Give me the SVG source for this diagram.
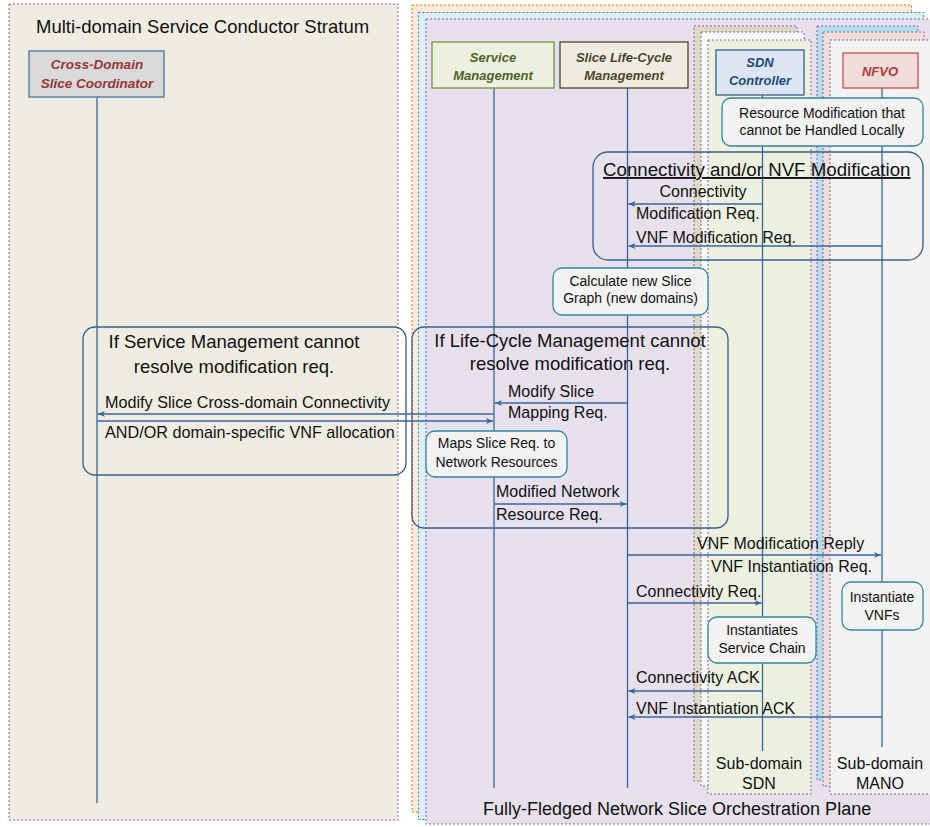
<svg xmlns="http://www.w3.org/2000/svg" width="930" height="827" viewBox="0 0 930 827">
<defs>
<marker id="ah" markerWidth="9" markerHeight="8" refX="7" refY="4" orient="auto" markerUnits="userSpaceOnUse">
<path d="M0,1 L7,4 L0,7 L2,4 z" fill="#3A659B"/>
</marker>
<style>
text{font-family:"Liberation Sans",Arial,sans-serif;fill:#111}
.pane{stroke-width:1;stroke-dasharray:2 2}
.hdbox{stroke-width:1.3}
.hd{font-weight:bold;font-style:italic;font-size:13px;text-anchor:middle}
.life{stroke:#3A659B;stroke-width:1.3;fill:none}
.msg{stroke:#3A659B;stroke-width:1.3;fill:none;marker-end:url(#ah)}
.note{fill:#F2F2F2;stroke:#31859C;stroke-width:1.3}
.nt{font-size:14px;text-anchor:middle}
.grp{fill:none;stroke:#385D8A;stroke-width:1.3}
.gt{font-size:18.5px}
.gtc{font-size:18.5px;text-anchor:middle}
.ml{font-size:16px}
.sub{font-size:16px;text-anchor:middle}
</style>
</defs>

<g id="backgrounds">
<rect class="pane" x="9" y="4" width="389" height="816" fill="#EEECE1" stroke="#8064A2"/>
<rect class="pane" x="412" y="5" width="499.5" height="807" fill="#FDE9D9" stroke="#E46C0A"/>
<rect class="pane" x="418.5" y="12.5" width="505.5" height="807" fill="#DBEEF4" stroke="#31859C"/>
<rect class="pane" x="426" y="19" width="510" height="805" fill="#E5E0EC" stroke="#8064A2"/>
<rect class="pane" x="694" y="26" width="103" height="755" fill="#DDD9C3" stroke="#8064A2"/>
<rect class="pane" x="701" y="32" width="103" height="754" fill="#F8F8F8" stroke="#8064A2"/>
<rect class="pane" x="708" y="40" width="103" height="754" fill="#EBF1DE" stroke="#8064A2"/>
<rect class="pane" x="817" y="26" width="101" height="754" fill="#B7DEE8" stroke="#8064A2"/>
<rect class="pane" x="823" y="32" width="101" height="754" fill="#F2DCDB" stroke="#8064A2"/>
<rect class="pane" x="830" y="40" width="110" height="754" fill="#F2F2F2" stroke="#8064A2"/>
<text x="36" y="33" style="font-size:18.5px">Multi-domain Service Conductor Stratum</text>
<text x="483" y="815" style="font-size:18px">Fully-Fledged Network Slice Orchestration Plane</text>
<text class="sub" x="759" y="769">Sub-domain</text>
<text class="sub" x="759" y="789">SDN</text>
<text class="sub" x="880" y="769">Sub-domain</text>
<text class="sub" x="880" y="789">MANO</text>
</g>

<g id="lifelines">
<line class="life" x1="97" y1="97" x2="97" y2="803"/>
<line class="life" x1="494" y1="88" x2="494" y2="788"/>
<line class="life" x1="627.5" y1="88" x2="627.5" y2="788"/>
<line class="life" x1="762.5" y1="95" x2="762.5" y2="751"/>
<line class="life" x1="882" y1="88" x2="882" y2="747"/>
</g>

<g id="groups">
<rect class="grp" x="593" y="152" width="330" height="108" rx="15"/>
<text x="603" y="176" style="font-size:18.7px" text-decoration="underline">Connectivity and/or NVF Modification</text>
<rect class="grp" x="412" y="327" width="316" height="201" rx="12"/>
<text class="gtc" x="570" y="347">If Life-Cycle Management cannot</text>
<text class="gtc" x="570" y="370">resolve modification req.</text>
<rect class="grp" x="83" y="327" width="323" height="148" rx="12"/>
<text class="gtc" x="234" y="348">If Service Management cannot</text>
<text class="gtc" x="234" y="373">resolve modification req.</text>
</g>

<g id="connectors">
<line class="msg" x1="762.5" y1="204" x2="628.5" y2="204"/>
<line class="msg" x1="882" y1="246" x2="628.5" y2="246"/>
<line class="msg" x1="627.5" y1="403" x2="495" y2="403"/>
<line class="msg" x1="494" y1="414" x2="98" y2="414"/>
<line class="msg" x1="97" y1="421" x2="493" y2="421"/>
<line class="msg" x1="494" y1="504" x2="626.5" y2="504"/>
<line class="msg" x1="627.5" y1="555" x2="881" y2="555"/>
<line class="msg" x1="627.5" y1="603" x2="761.5" y2="603"/>
<line class="msg" x1="762.5" y1="691" x2="628.5" y2="691"/>
<line class="msg" x1="882" y1="717" x2="628.5" y2="717"/>
<text class="ml" x="703" y="197" text-anchor="middle">Connectivity</text>
<text class="ml" x="636" y="219">Modification Req.</text>
<text class="ml" x="636" y="243">VNF Modification Req.</text>
<text class="ml" x="508" y="397">Modify Slice</text>
<text class="ml" x="508" y="418">Mapping Req.</text>
<text x="105" y="408" style="font-size:16.2px">Modify Slice Cross-domain Connectivity</text>
<text x="105" y="438" style="font-size:16.2px">AND/OR domain-specific VNF allocation</text>
<text class="ml" x="496" y="497">Modified Network</text>
<text class="ml" x="496" y="520">Resource Req.</text>
<text class="ml" x="697" y="549">VNF Modification Reply</text>
<text class="ml" x="711" y="572">VNF Instantiation Req.</text>
<text class="ml" x="636" y="597">Connectivity Req.</text>
<text class="ml" x="636" y="683">Connectivity ACK</text>
<text class="ml" x="636" y="714">VNF Instantiation ACK</text>
</g>

<g id="node-cdsc">
<rect class="hdbox" x="29" y="51" width="135" height="46" fill="#D9D9D9" stroke="#4F6F9F"/>
<text class="hd" x="97" y="69" style="fill:#953735;font-size:13.5px">Cross-Domain</text>
<text class="hd" x="97" y="88" style="fill:#953735;font-size:13.5px">Slice Coordinator</text>
</g>
<g id="node-service-mgmt">
<rect class="hdbox" x="432" y="42" width="122" height="46" fill="#EBF1DE" stroke="#77933C"/>
<text class="hd" x="493" y="62" style="fill:#4F6228">Service</text>
<text class="hd" x="493" y="80" style="fill:#4F6228">Management</text>
</g>
<g id="node-lcm">
<rect class="hdbox" x="560" y="42" width="128" height="46" fill="#EEECE1" stroke="#4A452A"/>
<text class="hd" x="624" y="62" style="fill:#4A452A">Slice Life-Cycle</text>
<text class="hd" x="624" y="80" style="fill:#4A452A">Management</text>
</g>
<g id="node-sdn">
<rect class="hdbox" x="716" y="50" width="88" height="45" fill="#DCE6F2" stroke="#385D8A"/>
<text class="hd" x="760" y="67" style="fill:#1F497D">SDN</text>
<text class="hd" x="760" y="85" style="fill:#1F497D">Controller</text>
</g>
<g id="node-nfvo">
<rect class="hdbox" x="843" y="53" width="75" height="35" fill="#F2DCDB" stroke="#C0504D"/>
<text class="hd" x="880" y="76" style="fill:#B03A37">NFVO</text>
</g>

<g id="note-resource">
<rect class="note" x="722" y="98" width="201" height="48" rx="9"/>
<text class="nt" x="822" y="118">Resource Modification that</text>
<text class="nt" x="822" y="135">cannot be Handled Locally</text>
</g>
<g id="note-calculate">
<rect class="note" x="553" y="268" width="155" height="47" rx="9"/>
<text class="nt" x="630.5" y="286">Calculate new Slice</text>
<text class="nt" x="630.5" y="303">Graph (new domains)</text>
</g>
<g id="note-maps">
<rect class="note" x="426" y="431" width="141" height="46" rx="9"/>
<text class="nt" x="496.5" y="448">Maps Slice Req. to</text>
<text class="nt" x="496.5" y="467">Network Resources</text>
</g>
<g id="note-instantiate-vnfs">
<rect class="note" x="842" y="582" width="81" height="48" rx="9"/>
<text class="nt" x="882" y="602">Instantiate</text>
<text class="nt" x="882" y="620">VNFs</text>
</g>
<g id="note-service-chain">
<rect class="note" x="708" y="617" width="108" height="46" rx="9"/>
<text class="nt" x="762" y="635">Instantiates</text>
<text class="nt" x="762" y="653">Service Chain</text>
</g>
</svg>
